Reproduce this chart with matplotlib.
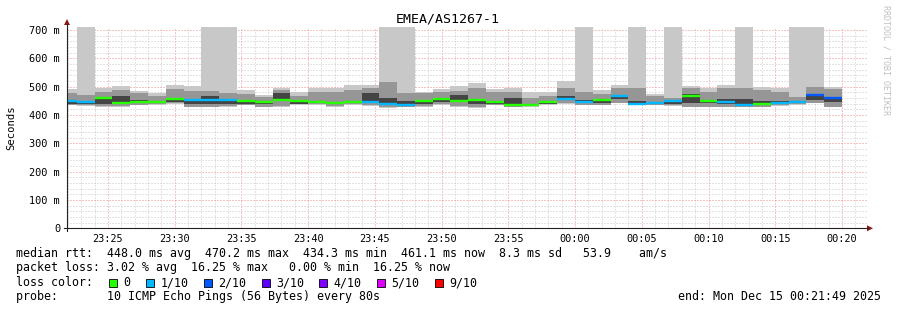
import matplotlib
matplotlib.use("Agg")
import matplotlib.pyplot as plt
import matplotlib.dates as mdates
from matplotlib.patches import Rectangle, Polygon
from matplotlib.lines import Line2D
import numpy as np
import pandas as pd

# ---------------- data ----------------
title = "EMEA/AS1267-1"
y_label = "Seconds"
first_step = "2025-12-14 23:21:20"
step_seconds = 80
view_start = "2025-12-14 23:21:56"
view_end = "2025-12-15 00:21:57"

# smoke: outer band (min..max), middle band (lo..hi), dark core (dk_lo..dk_hi); None max = lost ping
ping_max = [492, None, 495, 503, 486, 478, 507, 501, None, None, 487, 472, 495, 481, 497, 497,
            505, 507, None, None, 483, 493, 501, 513, 492, 497, 480, 481, 519, None, 488, 506,
            None, 474, None, 502, 494, 506, None, 500, 494, None, None, 500]
ping_hi = [478, 472, 483, 489, 478, 466, 493, 486, 486, 478, 474, 462, 489, 466, 483, 483,
           489, 495, 515, 478, 478, 483, 486, 497, 481, 483, 460, 466, 495, 482, 474, 494,
           494, 467, 459, 494, 482, 494, 494, 488, 482, 465, 500, 492]
dark_hi = [446, 446, 459, 468, 452, 450, 456, 450, 466, 450, 446, 447, 478, 446, 450, 447,
           448, 478, 460, 448, 449, 454, 470, 452, 446, 460, 440, 446, 466, 452, 452, 466,
           450, 444, 448, 476, 452, 455, 455, 450, 450, 450, 470, 458]
dark_lo = [440, 440, 439, 445, 444, 441, 447, 439, 440, 440, 440, 440, 455, 439, 442, 440,
           441, 448, 442, 440, 440, 445, 450, 439, 440, 440, 434, 440, 454, 442, 443, 455,
           438, 438, 440, 444, 441, 440, 434, 438, 440, 442, 452, 446]
ping_lo = [437, 436, 431, 431, 437, 438, 442, 430, 430, 432, 437, 430, 432, 438, 438, 432,
           438, 436, 428, 430, 432, 438, 432, 428, 437, 429, 432, 438, 442, 436, 437, 443,
           436, 437, 434, 430, 430, 430, 430, 430, 435, 438, 444, 430]
ping_min = [434, 433, 429, 427, 434, 436, 440, 427, 427, 429, 434, 427, 430, 436, 436, 430,
            436, 433, 425, 427, 430, 436, 430, 425, 434, 427, 430, 436, 440, 434, 435, 441,
            434, 435, 432, 427, 427, 427, 427, 427, 432, 435, 441, 427]
median_rtt = [450, 447, 461, 441, 447, 446, 455, 453, 452, 452, 448, 445, 452, 449, 446, 444,
              445, 446, 439, 436, 450, 455, 448, 453, 445, 437, 436, 446, 456, 447, 453, 466,
              439, 444, 449, 467, 451, 445, 434, 438, 441, 447, 471, 461]
loss_level = [1, 1, 0, 0, 0, 0, 0, 1, 1, 1, 0, 0, 0, 0, 0, 0,
              0, 1, 1, 1, 0, 0, 0, 0, 0, 0, 0, 0, 1, 1, 0, 1,
              1, 1, 1, 0, 0, 1, 1, 0, 1, 1, 2, 2]

loss_labels = ["0", "1/10", "2/10", "3/10", "4/10", "5/10", "9/10"]
loss_colors = ["#26ff00", "#00b8ff", "#0059ff", "#5e00ff", "#7e00ff", "#dd00ff", "#ff0000"]

y_ticks = [0, 100, 200, 300, 400, 500, 600, 700]
y_tick_labels = ["0", "100 m", "200 m", "300 m", "400 m", "500 m", "600 m", "700 m"]

stats_line1 = "median rtt:  448.0 ms avg  470.2 ms max  434.3 ms min  461.1 ms now  8.3 ms sd   53.9    am/s"
stats_line2 = "packet loss: 3.02 % avg  16.25 % max   0.00 % min  16.25 % now"
loss_head = "loss color:"
probe_line = "probe:       10 ICMP Echo Pings (56 Bytes) every 80s"
end_line = "end: Mon Dec 15 00:21:49 2025"
watermark = "RRDTOOL / TOBI OETIKER"

# ---------------- figure ----------------
W, H = 897, 310
fig = plt.figure(figsize=(W / 100, H / 100), dpi=100)
fig.patch.set_facecolor("white")
MONO = "DejaVu Sans Mono"

def fx(px):
    return px / W

def fy(py):
    return 1 - py / H

x0, x1, yb, yt = 67, 868, 228.3, 27
YTOP = 711
ax = fig.add_axes([fx(x0), fy(yb), (x1 - x0) / W, (yb - yt) / H])
ax.set_facecolor("white")

times = pd.date_range(first_step, periods=len(median_rtt), freq=f"{step_seconds}s")
xs = mdates.date2num(times.to_pydatetime())
width = step_seconds / 86400.0

top = np.array([YTOP if m is None else m for m in ping_max], dtype=float)
hi = np.array(ping_hi, float)
lo = np.array(ping_lo, float)
mn = np.array(ping_min, float)
dh = np.array(dark_hi, float)
dl = np.array(dark_lo, float)

ax.bar(xs, top - mn, bottom=mn, width=width, align="edge", color="#c8c8c8", lw=0, zorder=1)
ax.bar(xs, hi - lo, bottom=lo, width=width, align="edge", color="#969696", lw=0, zorder=1.1)
ax.bar(xs, dh - dl, bottom=dl, width=width, align="edge", color="#444444", lw=0, zorder=1.2)

med_cols = [loss_colors[l] for l in loss_level]
ax.hlines(median_rtt, xs, xs + width, colors=med_cols, lw=1.7, zorder=3)

ax.set_xlim(mdates.date2num(pd.Timestamp(view_start).to_pydatetime()),
            mdates.date2num(pd.Timestamp(view_end).to_pydatetime()))
ax.set_ylim(0, YTOP)

ax.set_yticks(y_ticks)
ax.set_yticklabels(y_tick_labels, fontfamily=MONO, fontsize=7.4)
ax.yaxis.set_minor_locator(matplotlib.ticker.MultipleLocator(20))
ax.xaxis.set_major_locator(mdates.MinuteLocator(byminute=range(0, 60, 5)))
ax.xaxis.set_minor_locator(mdates.MinuteLocator())
ax.xaxis.set_major_formatter(mdates.DateFormatter("%H:%M"))
for lab in ax.get_xticklabels():
    lab.set_fontfamily(MONO)
    lab.set_fontsize(7.4)
ax.tick_params(axis="both", which="both", length=0)
ax.tick_params(axis="x", pad=4)
ax.tick_params(axis="y", pad=5)

ax.set_axisbelow(True)
ax.grid(which="minor", color="#c8c8c8", ls=(0, (1, 2)), lw=0.72, snap=True)
ax.grid(which="major", color="#f08c8c", ls=(0, (1, 2)), lw=0.72, snap=True)
for s in ax.spines.values():
    s.set_visible(False)

# axis lines with arrows
fig.add_artist(Line2D([fx(x0), fx(x0)], [fy(yb + 3), fy(24)], color="#222222", lw=0.8))
fig.add_artist(Line2D([fx(x0 - 3), fx(868)], [fy(yb), fy(yb)], color="#222222", lw=0.8))
fig.add_artist(Polygon([[fx(x0 - 3), fy(25)], [fx(x0 + 3), fy(25)], [fx(x0), fy(19)]],
                       closed=True, color="#8b1a1a", lw=0))
fig.add_artist(Polygon([[fx(867), fy(yb - 3)], [fx(867), fy(yb + 3)], [fx(873), fy(yb)]],
                       closed=True, color="#8b1a1a", lw=0))

fig.text(fx(448), fy(19), title, ha="center", va="center", fontfamily=MONO, fontsize=9.5)
fig.text(fx(11), fy(128), y_label, rotation=90, ha="center", va="center",
         fontfamily=MONO, fontsize=7.6)
fig.text(fx(886), fy(5), watermark, rotation=270, ha="center", va="top",
         fontfamily=MONO, fontsize=6.0, color="#c0c0c0")

LF = 8.4
fig.text(fx(16), fy(254), stats_line1, ha="left", va="center", fontfamily=MONO, fontsize=LF)
fig.text(fx(16), fy(268), stats_line2, ha="left", va="center", fontfamily=MONO, fontsize=LF)
fig.text(fx(16), fy(282.5), loss_head, ha="left", va="center", fontfamily=MONO, fontsize=LF)
fig.text(fx(16), fy(296.5), probe_line, ha="left", va="center", fontfamily=MONO, fontsize=LF)
fig.text(fx(881), fy(296.5), end_line, ha="right", va="center", fontfamily=MONO, fontsize=LF)

box_x = [109, 146, 203.5, 262, 319, 377, 435]
for bx, lab, col in zip(box_x, loss_labels, loss_colors):
    fig.add_artist(Rectangle((fx(bx), fy(286.5)), 8 / W, 8 / H, facecolor=col,
                             edgecolor="#000000", lw=0.6))
    fig.text(fx(bx + 14.5), fy(282.5), lab, ha="left", va="center", fontfamily=MONO, fontsize=LF)

fig.savefig("out.png", dpi=100, facecolor="white")
